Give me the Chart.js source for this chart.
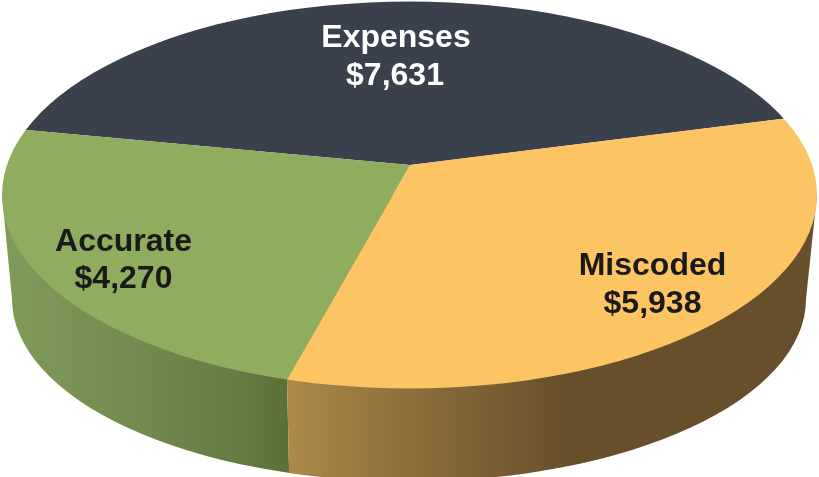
<!DOCTYPE html>
<html>
<head>
<meta charset="utf-8">
<style>html,body{margin:0;padding:0;background:#fff}canvas{display:block}</style>
<script src="https://cdn.jsdelivr.net/npm/chart.js@4/dist/chart.umd.min.js"></script>
</head>
<body>
<canvas id="c" width="819" height="477"></canvas>
<script>
const categories = ['Expenses', 'Miscoded', 'Accurate'];
const values = [7631, 5938, 4270];
const sliceColors = ['#3a404c', '#fcc462', '#8fad5f'];
const labelColors = ['#ffffff', '#1a1a1a', '#1a1a1a'];

// layout of the tilted disc
const apex = {x: 410, y: 165};
const top_ = {cx: 409.5, cy: 195, rx: 407.5, ry: 193.5};
const bot = {cx: 409, cy: 299, rx: 397, ry: 182.5};
const squash = 1 / 2.15, zoom = 2.4;
const labelPos = [[396, 395, 47, 85], [652.5, 652.5, 275, 313], [123.5, 123.5, 251, 288]];

function splitPoint(angle) {
  const dx = Math.cos(angle), dy = Math.sin(angle) * squash;
  const ox = apex.x - top_.cx, oy = apex.y - top_.cy;
  const A = dx*dx/(top_.rx*top_.rx) + dy*dy/(top_.ry*top_.ry);
  const B = 2*(ox*dx/(top_.rx*top_.rx) + oy*dy/(top_.ry*top_.ry));
  const C = ox*ox/(top_.rx*top_.rx) + oy*oy/(top_.ry*top_.ry) - 1;
  const t = (-B + Math.sqrt(B*B - 4*A*C)) / (2*A);
  return {x: apex.x + dx*t, y: apex.y + dy*t};
}

function wallPath(ctx) {
  ctx.beginPath();
  ctx.moveTo(top_.cx - top_.rx, top_.cy);
  ctx.lineTo(bot.cx - bot.rx, bot.cy);
  ctx.ellipse(bot.cx, bot.cy, bot.rx, bot.ry, 0, Math.PI, 0, true);
  ctx.lineTo(top_.cx + top_.rx, top_.cy);
  ctx.closePath();
}

const disc3d = {
  id: 'disc3d',
  beforeDatasetsDraw(chart) {
    const ctx = chart.ctx, meta = chart.getDatasetMeta(0);
    const split = splitPoint(meta.data[1].endAngle);
    const W = chart.width, H = chart.height;

    // Accurate wall
    ctx.save();
    ctx.beginPath();
    ctx.moveTo(0, 0); ctx.lineTo(split.x, 0); ctx.lineTo(split.x, split.y);
    ctx.lineTo(split.x + 2.2, H); ctx.lineTo(0, H); ctx.closePath();
    ctx.clip();
    let g = ctx.createLinearGradient(3, 0, split.x, 0);
    g.addColorStop(0, '#7f9b59');
    g.addColorStop(0.5, '#718a4e');
    g.addColorStop(0.85, '#647b42');
    g.addColorStop(1, '#5a7036');
    ctx.fillStyle = g;
    wallPath(ctx); ctx.fill();
    ctx.restore();

    // Miscoded wall
    ctx.save();
    ctx.beginPath();
    ctx.moveTo(W, 0); ctx.lineTo(split.x, 0); ctx.lineTo(split.x, split.y);
    ctx.lineTo(split.x + 2.2, H); ctx.lineTo(W, H); ctx.closePath();
    ctx.clip();
    g = ctx.createLinearGradient(split.x, 0, 570, 0);
    g.addColorStop(0, '#ad8949');
    g.addColorStop(0.45, '#8b6e3b');
    g.addColorStop(1, '#674f2b');
    ctx.fillStyle = g;
    wallPath(ctx); ctx.fill();
    ctx.restore();

    // Flat top surface: the pie, seen tilted and cut to the disc outline
    const el = meta.data[0];
    ctx.save();
    ctx.beginPath();
    ctx.ellipse(top_.cx, top_.cy, top_.rx, top_.ry, 0, 0, Math.PI * 2);
    ctx.clip();
    ctx.translate(apex.x, apex.y);
    ctx.scale(zoom, zoom * squash);
    ctx.translate(-el.x, -el.y);
  },
  afterDatasetsDraw(chart) {
    const ctx = chart.ctx;
    ctx.restore();
    ctx.save();
    ctx.font = 'bold 32px "Liberation Sans", Arial, sans-serif';
    ctx.textAlign = 'center';
    ctx.textBaseline = 'alphabetic';
    categories.forEach((name, i) => {
      ctx.fillStyle = labelColors[i];
      ctx.fillText(name, labelPos[i][0], labelPos[i][2]);
      ctx.fillText('$' + values[i].toLocaleString('en-US'), labelPos[i][1], labelPos[i][3]);
    });
    ctx.restore();
  }
};

new Chart(document.getElementById('c'), {
  type: 'pie',
  data: {
    labels: categories,
    datasets: [{data: values, backgroundColor: sliceColors, borderWidth: 0, clip: false}]
  },
  options: {
    responsive: false,
    animation: false,
    rotation: -78.9,
    layout: {padding: 0},
    plugins: {legend: {display: false}, tooltip: {enabled: false}, title: {display: false}}
  },
  plugins: [disc3d]
});
</script>
</body>
</html>
